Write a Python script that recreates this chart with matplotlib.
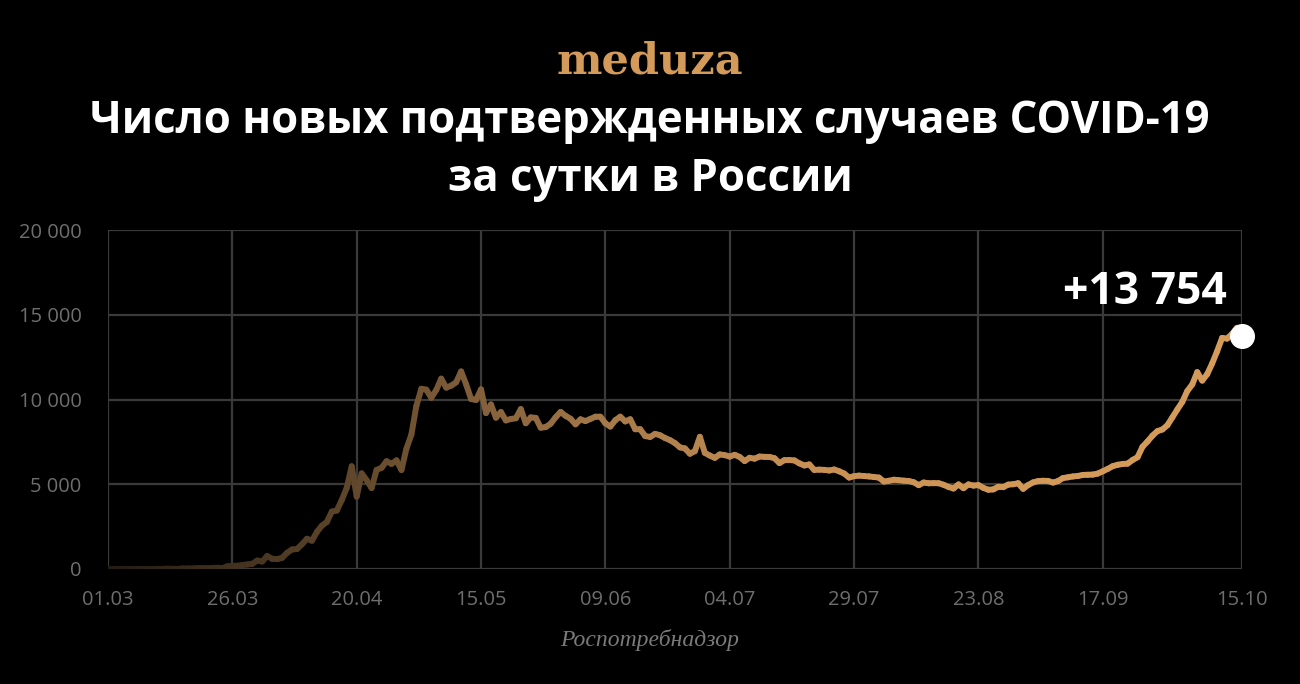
import numpy as np
import matplotlib.pyplot as plt
from matplotlib.collections import LineCollection
from matplotlib.colors import LinearSegmentedColormap

# daily new cases, 01.03 - 15.10
march = [0, 2, 0, 0, 1, 6, 0, 3, 3, 1, 8, 6, 17, 14, 4, 34, 30, 33, 52, 54,
         53, 62, 71, 57, 163, 182, 196, 228, 270, 302, 501]
april = [440, 771, 601, 582, 658, 954, 1154, 1175, 1459, 1786, 1667, 2186, 2558, 2774, 3388,
         3448, 4070, 4785, 6060, 4268, 5642, 5236, 4774, 5849, 5966, 6361, 6198, 6411, 5841, 7099]
may = [7933, 9623, 10633, 10581, 10102, 10559, 11231, 10699, 10817, 11012, 11656, 10899, 10028,
       9974, 10598, 9200, 9709, 8926, 9263, 8764, 8849, 8894, 9434, 8599, 8946, 8915, 8338,
       8371, 8572, 8952, 9268]
june = [9035, 8863, 8536, 8831, 8726, 8855, 8984, 8985, 8595, 8404, 8779, 8987, 8706, 8835,
        8246, 8248, 7843, 7790, 7972, 7889, 7728, 7600, 7425, 7176, 7113, 6800, 6952, 7800,
        6850, 6693]
july = [6556, 6760, 6718, 6632, 6736, 6611, 6368, 6562, 6509, 6635, 6615, 6611, 6537, 6248,
        6422, 6428, 6406, 6234, 6109, 6170, 5842, 5862, 5848, 5811, 5871, 5765, 5635, 5395,
        5475, 5509, 5482]
august = [5462, 5427, 5394, 5159, 5204, 5267, 5241, 5212, 5189, 5118, 4945, 5102, 5057, 5065,
          5061, 4969, 4839, 4748, 4990, 4767, 4990, 4921, 4952, 4785, 4676, 4696, 4850, 4829,
          4980, 5000, 5060]
september = [4729, 4952, 5110, 5185, 5205, 5195, 5099, 5185, 5363, 5410, 5460, 5488, 5549,
             5559, 5570, 5629, 5762, 5905, 6065, 6148, 6196, 6215, 6431, 6595, 7212, 7523,
             7867, 8135, 8232, 8481]
october = [8945, 9412, 9859, 10499, 10888, 11615, 11115, 11493, 12126, 12846, 13634, 13592,
           13868, 14231, 13754]

cases = march + april + may + june + july + august + september + october

tick_days = [0, 25, 50, 75, 100, 125, 150, 175, 200, 228]
tick_labels = ['01.03', '26.03', '20.04', '15.05', '09.06', '04.07', '29.07', '23.08',
               '17.09', '15.10']
y_ticks = [0, 5000, 10000, 15000, 20000]
y_labels = ['0', '5 000', '10 000', '15 000', '20 000']

bg = '#000000'
gold = '#d49a5a'
grid_col = '#3a3a3a'
label_col = '#6e6e6e'

fig = plt.figure(figsize=(13, 6.84), dpi=100, facecolor=bg)
ax = fig.add_axes([108 / 1300, 1 - 569 / 684, 1134 / 1300, 339 / 684])
ax.set_facecolor(bg)

days = np.arange(len(cases))
vals = np.array(cases, dtype=float)
pts = np.column_stack([days, vals]).reshape(-1, 1, 2)
segs = np.concatenate([pts[:-1], pts[1:]], axis=1)

cmap = LinearSegmentedColormap.from_list(
    'meduza', [(0.0, '#241b12'), (0.2, '#5c4429'), (0.33, '#84613b'), (0.45, '#a87b4a'),
               (0.6, '#c68e53'), (0.8, '#d29857'), (1.0, '#d59b5a')])
lc = LineCollection(segs, cmap=cmap, linewidths=4.3, capstyle='round', joinstyle='round',
                    zorder=3)
lc.set_array(days[:-1] / days[-1])
ax.add_collection(lc)

ax.plot(days[-1], vals[-1], 'o', color='white', markersize=17, zorder=5, clip_on=False)
ax.text(days[-1] - 3, vals[-1] + 1250, '+13 754', color='white', fontsize=32,
        fontfamily='Open Sans', fontweight='bold', ha='right', va='bottom')

ax.set_xlim(0, 228)
ax.set_ylim(0, 20000)
ax.set_xticks(tick_days)
ax.set_xticklabels(tick_labels)
ax.set_yticks(y_ticks)
ax.set_yticklabels(y_labels)
ax.grid(True, color=grid_col, linewidth=1.6, zorder=0)
ax.set_axisbelow(True)
for s in ax.spines.values():
    s.set_visible(False)
ax.tick_params(length=0, colors=label_col, labelsize=14.5, pad=15)
ax.tick_params(axis='y', pad=19)
for lab in ax.get_xticklabels() + ax.get_yticklabels():
    lab.set_fontfamily('Open Sans')

fig.text(0.5, 1 - 62 / 684, 'meduza', color=gold, fontsize=31, fontfamily='DejaVu Serif',
         fontweight='bold', ha='center', va='center')
fig.text(0.5, 1 - 122 / 684, 'Число новых подтвержденных случаев COVID-19', color='white',
         fontsize=31.4, fontfamily='Open Sans', fontweight='bold', ha='center', va='center')
fig.text(0.5, 1 - 180 / 684, 'за сутки в России', color='white',
         fontsize=31.4, fontfamily='Open Sans', fontweight='bold', ha='center', va='center')
fig.text(0.5, 1 - 640 / 684, 'Роспотребнадзор', color='#7a7a7a', fontsize=17,
         fontfamily='Liberation Serif', fontstyle='italic', ha='center', va='center')

fig.savefig('out.png', dpi=100, facecolor=bg)
